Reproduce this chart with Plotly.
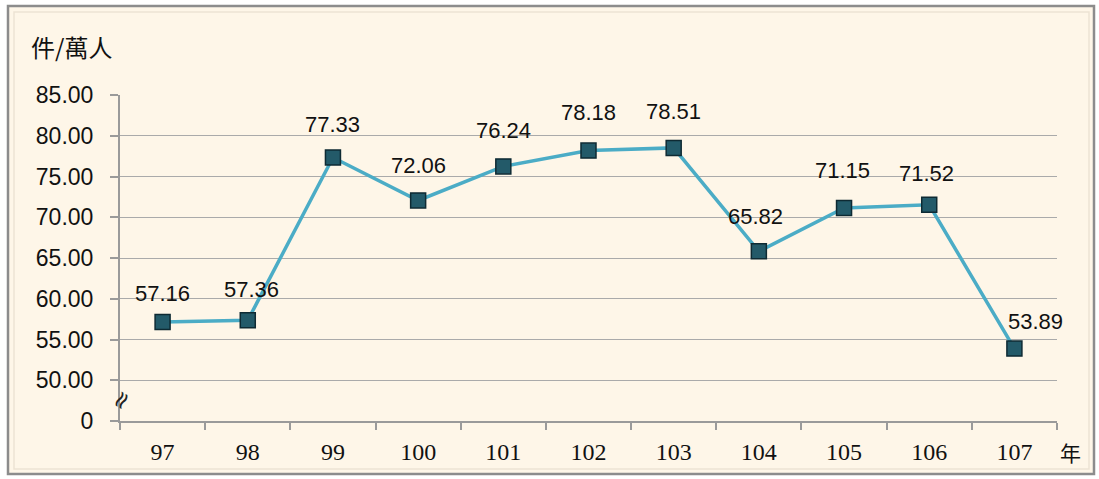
import plotly.graph_objects as go

years = ["97", "98", "99", "100", "101", "102", "103", "104", "105", "106", "107"]
values = [57.16, 57.36, 77.33, 72.06, 76.24, 78.18, 78.51, 65.82, 71.15, 71.52, 53.89]
y_tick_vals = [45, 50, 55, 60, 65, 70, 75, 80, 85]
y_tick_text = ["0", "50.00", "55.00", "60.00", "65.00", "70.00", "75.00", "80.00", "85.00"]

# per-label offsets (style only)
label_dx = [0, 4, 0, 0, 0, 0, 0, -3, -2, -3, 21]
label_dy = [28, 31, 33, 35, 36, 38, 36, 35, 37, 31, 27]

W, H = 1099, 479
ml, mr, mt, mb = 120, 42, 95, 58
pw, ph = W - ml - mr, H - mt - mb

def px(x):
    return (x - ml) / pw

def py(y):
    return 1 - (y - mt) / ph

fig = go.Figure()
fig.add_trace(go.Scatter(
    x=years, y=values, mode="lines+markers",
    line=dict(color="#4BACC6", width=3.5),
    marker=dict(symbol="square", size=15, color="#235A69",
                line=dict(color="#0E2A33", width=1.5)),
    hoverinfo="skip",
))

annotations = []
for i, v in enumerate(values):
    annotations.append(dict(
        x=i, y=v, xref="x", yref="y", text=f"{v:.2f}", showarrow=False,
        xshift=label_dx[i], yshift=label_dy[i],
        font=dict(family="Liberation Sans, Arial", size=22, color="#111111"),
    ))
annotations.append(dict(
    x=px(29), y=py(47), xref="paper", yref="paper", text="件/萬人", showarrow=False,
    xanchor="left", yanchor="middle",
    font=dict(family="Noto Sans CJK TC", size=24, color="#111111"),
))
annotations.append(dict(
    x=px(1058), y=py(452), xref="paper", yref="paper", text="年", showarrow=False,
    xanchor="left", yanchor="middle",
    font=dict(family="Noto Sans CJK TC", size=21, color="#111111"),
))
annotations.append(dict(
    x=px(121), y=py(400), xref="paper", yref="paper", text="≈", showarrow=False,
    textangle=-60, xanchor="center", yanchor="middle",
    font=dict(family="DejaVu Sans", size=24, color="#222222"),
))

shapes = [
    dict(type="rect", xref="paper", yref="paper", layer="below",
         x0=px(8), x1=px(1094), y0=py(474), y1=py(6),
         fillcolor="#FEF6E8", line=dict(color="#8C8C8C", width=2.5)),
    dict(type="rect", xref="paper", yref="paper", layer="below",
         x0=px(14), x1=px(1089), y0=py(469), y1=py(12),
         fillcolor="rgba(0,0,0,0)", line=dict(color="#EDE3D3", width=1.5)),
]

fig.update_layout(
    width=W, height=H,
    margin=dict(l=ml, r=mr, t=mt, b=mb),
    paper_bgcolor="white", plot_bgcolor="rgba(0,0,0,0)",
    showlegend=False,
    annotations=annotations, shapes=shapes,
    xaxis=dict(
        type="category", tickson="boundaries", ticks="outside", ticklen=7,
        tickcolor="#9A9A9A", tickwidth=1.5,
        showline=True, linecolor="#9A9A9A", linewidth=1.5,
        showgrid=False, range=[-0.5, 10.5], ticklabelstandoff=8,
        tickfont=dict(family="Liberation Serif, Times New Roman", size=24, color="#111111"),
    ),
    yaxis=dict(
        range=[45, 85], tickvals=y_tick_vals, ticktext=y_tick_text,
        ticks="outside", ticklen=8, tickcolor="#9A9A9A", tickwidth=1.5,
        showline=True, linecolor="#9A9A9A", linewidth=2,
        showgrid=True, gridcolor="#AAAAAA", gridwidth=1.3,
        zeroline=False, ticklabelstandoff=12,
        tickfont=dict(family="Liberation Sans, Arial", size=23, color="#111111"),
    ),
)

fig.write_html("out.html", config={"displayModeBar": False},
               post_script="document.body.style.margin='0';document.body.style.overflow='hidden';")
